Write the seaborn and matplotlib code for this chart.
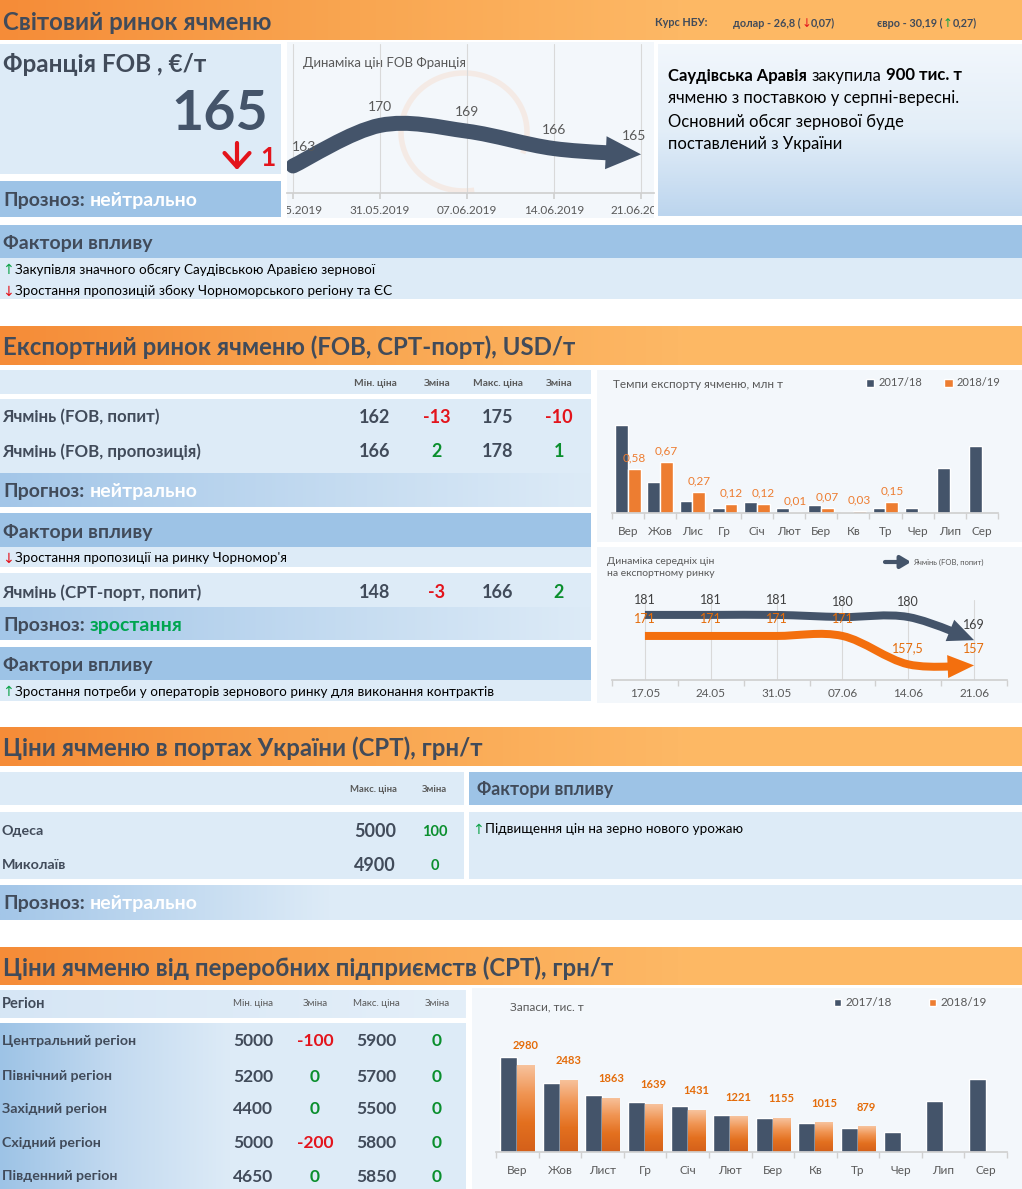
"""Market digest page for barley prices, drawn as one figure."""

import matplotlib
matplotlib.use("Agg")
import matplotlib.pyplot as plt
import numpy as np
import pandas as pd
import seaborn as sns
from matplotlib.colors import LinearSegmentedColormap
from matplotlib.patches import Arc, PathPatch, Polygon, Rectangle
from matplotlib.path import Path
from matplotlib.transforms import Bbox

# ---- data -----------------------------------------------------------------
nbu_usd, nbu_usd_change = "26,8", "0,07"
nbu_eur, nbu_eur_change = "30,19", "0,27"

fob_dates = ["24.05.2019", "31.05.2019", "07.06.2019", "14.06.2019", "21.06.2019"]
fob_prices = [163, 170, 169, 166, 165]
fob_last = 165
fob_change = 1

news_lines = [
    [("Саудівська Аравія", "bold"), (" закупила ", "normal"), ("900 тис. т", "bold")],
    [("ячменю з поставкою у серпні-вересні.", "normal")],
    [("Основний обсяг зернової буде", "normal")],
    [("поставлений з України", "normal")],
]
world_factors = [
    ("up", "Закупівля значного обсягу Саудівською Аравією зернової"),
    ("down", "Зростання пропозицій збоку Чорноморського регіону та ЄС"),
]

export_names = ["Ячмінь (FOB, попит)", "Ячмінь (FOB, пропозиція)"]
export_min = [162, 166]
export_min_change = [-13, 2]
export_max = [175, 178]
export_max_change = [-10, 1]
export_factors = [("down", "Зростання пропозиції на ринку Чорномор'я")]
cpt_name = "Ячмінь (CPT-порт, попит)"
cpt_min, cpt_min_change, cpt_max, cpt_max_change = 148, -3, 166, 2
cpt_factors = [("up", "Зростання потреби у операторів зернового ринку для виконання контрактів")]

export_months = ["Вер", "Жов", "Лис", "Гр", "Січ", "Лют", "Бер", "Кв", "Тр", "Чер", "Лип", "Сер"]
export_1718 = [1.16, 0.41, 0.16, 0.06, 0.14, 0.06, 0.10, 0.01, 0.07, 0.07, 0.59, 0.88]
export_1819 = [0.58, 0.67, 0.27, 0.12, 0.12, 0.01, 0.07, 0.03, 0.15, None, None, None]

avg_dates = ["17.05", "24.05", "31.05", "07.06", "14.06", "21.06"]
avg_fob_demand = [181, 181, 181, 180, 180, 169]
avg_cpt_demand = [171, 171, 171, 171, 157.5, 157]

ports = ["Одеса", "Миколаїв"]
port_max = [5000, 4900]
port_change = [100, 0]
port_factors = [("up", "Підвищення цін на зерно нового урожаю")]

regions = ["Центральний регіон", "Північний регіон", "Західний регіон",
           "Східний регіон", "Південний регіон"]
region_min = [5000, 5200, 4400, 5000, 4650]
region_min_change = [-100, 0, 0, -200, 0]
region_max = [5900, 5700, 5500, 5800, 5850]
region_max_change = [0, 0, 0, 0, 0]

stock_months = ["Вер", "Жов", "Лист", "Гр", "Січ", "Лют", "Бер", "Кв", "Тр", "Чер", "Лип", "Сер"]
stock_1718 = [3270, 2370, 1970, 1730, 1570, 1280, 1170, 1010, 840, 700, 1750, 2500]
stock_1819 = [2980, 2483, 1863, 1639, 1431, 1221, 1155, 1015, 879, None, None, None]

seasons = ["2017/18", "2018/19"]

# ---- style ----------------------------------------------------------------
DARK = "#44546A"
ORANGE = "#ED7D31"
TEXT = "#414B5A"
LIGHT = "#DDEBF7"
MID = "#9DC3E6"
PANEL = "#F3F7FB"
RED = "#E3141C"
GREEN = "#0B8F2E"
UP = "#0FA34A"
GRAY = "#595959"

sns.set_theme(style="white")
plt.rcParams["font.family"] = ["Lato", "DejaVu Sans"]

W, H = 1022, 1189
fig = plt.figure(figsize=(W / 100, H / 100), dpi=100)
bg = fig.add_axes([0, 0, 1, 1])
bg.set_autoscale_on(False)
bg.set_xlim(0, W)
bg.set_ylim(H, 0)
bg.axis("off")
renderer = fig.canvas.get_renderer()


def axes_px(x0, y0, x1, y1):
    ax = fig.add_axes([x0 / W, 1 - y1 / H, (x1 - x0) / W, (y1 - y0) / H])
    ax.set_facecolor("none")
    return ax


def box(x0, y0, x1, y1, color):
    bg.add_patch(Rectangle((x0, y0), x1 - x0, y1 - y0, color=color, lw=0, zorder=0))


def gradient(x0, y0, x1, y1, colors, horizontal=True):
    cmap = LinearSegmentedColormap.from_list("grad", colors)
    ramp = np.linspace(0, 1, 256)
    ramp = ramp.reshape(1, -1) if horizontal else ramp.reshape(-1, 1)
    bg.imshow(ramp, cmap=cmap, extent=(x0, x1, y1, y0), aspect="auto",
              interpolation="bilinear", zorder=0)


def write(x, y, parts, size, ha="left", va="center_baseline"):
    """Place runs of differently styled text one after another."""
    space = 0.27 * size * 100 / 72
    cur = x
    items = []
    for s, color, weight in parts:
        if s.startswith(" "):
            cur += space
        t = bg.text(cur, y, s.strip(), fontsize=size, color=color,
                    fontweight=weight, ha="left", va=va, zorder=5)
        cur += t.get_window_extent(renderer).width
        if s.endswith(" "):
            cur += space
        items.append(t)
    total = cur - x
    shift = {"left": 0, "center": total / 2, "right": total}[ha]
    for t in items:
        t.set_x(t.get_position()[0] - shift)
    return total


def glyph_arrow(x, y, direction, size):
    arrow, color = ("↑", UP) if direction == "up" else ("↓", RED)
    t = bg.text(x, y, arrow, fontsize=size, color=color, family="DejaVu Sans",
                va="center_baseline", zorder=5)
    return t.get_window_extent(renderer).width


def signed(v):
    return (RED if v < 0 else GREEN), f"{v}"


def header(y0, y1, title):
    gradient(0, y0, W, y1, ["#F58C38", "#F9A550", "#FDB865", "#FDB864"])
    write(3, (y0 + y1) / 2, [(title, TEXT, "bold")], 17.3)


def factor_lines(x, ys, factors, size=9.7):
    for y, (direction, text) in zip(ys, factors):
        glyph_arrow(x, y, direction, size + 0.5)
        write(x + 13, y, [(text, "black", "normal")], size)


def forecast(y0, y1, x1, word, color, label="Прозноз:", fade_to=None):
    gradient(0, y0, fade_to or x1, y1, ["#A3C6E8", LIGHT])
    if fade_to:
        box(fade_to, y0, x1, y1, LIGHT)
    write(3, (y0 + y1) / 2, [(label + " ", TEXT, "bold"), (word, color, "bold")], 14)


def smooth_arrow(ax, xs, ys, color, width_px, head_len, head_w, cap="butt"):
    """Thick smoothed line through the points with a filled arrow head."""
    pts = ax.transData.transform(np.column_stack([xs, ys]))
    ext = np.vstack([pts[0], pts, pts[-1]])
    segs = []
    for i in range(len(pts) - 1):
        p0, p1 = pts[i], pts[i + 1]
        c1 = p0 + (ext[i + 2] - ext[i]) / 6
        c2 = p1 - (ext[i + 3] - ext[i + 1]) / 6
        segs.append((p0, c1, c2, p1))
    p0, c1, c2, p1 = segs[-1]

    def bez(t):
        return ((1 - t) ** 3) * p0 + 3 * ((1 - t) ** 2) * t * c1 + 3 * (1 - t) * t * t * c2 + t ** 3 * p1

    t = 1.0
    while t > 0.05 and np.hypot(*(bez(t) - p1)) < head_len:
        t -= 0.01
    a = p0 + (c1 - p0) * t
    b = c1 + (c2 - c1) * t
    c = c2 + (p1 - c2) * t
    d = a + (b - a) * t
    e = b + (c - b) * t
    f = d + (e - d) * t
    segs[-1] = (p0, a, d, f)
    verts = [segs[0][0]]
    codes = [Path.MOVETO]
    for s in segs:
        verts += [s[1], s[2], s[3]]
        codes += [Path.CURVE4] * 3
    inv = ax.transData.inverted()
    ax.add_patch(PathPatch(Path(inv.transform(np.array(verts)), codes), fill=False,
                           edgecolor=color, lw=width_px * 0.72, capstyle=cap, zorder=3))
    direction = (p1 - f) / np.hypot(*(p1 - f))
    perp = np.array([-direction[1], direction[0]])
    base = f - direction * 2
    head = np.array([p1, base + perp * head_w / 2, base - perp * head_w / 2])
    ax.add_patch(Polygon(inv.transform(head), closed=True, color=color, lw=0, zorder=3))


def bar_chart(ax, months, first, second, ymax, label_fmt, tick_size):
    df = pd.DataFrame({
        "month": months * 2,
        "season": [seasons[0]] * len(months) + [seasons[1]] * len(months),
        "value": [np.nan if v is None else v for v in first + second],
    })
    sns.barplot(data=df, x="month", y="value", hue="season", order=months,
                hue_order=seasons, palette=[DARK, ORANGE], saturation=1,
                width=0.8, ax=ax)
    ax.set_xlabel("")
    ax.set_ylabel("")
    ax.set_yticks([])
    ax.set_ylim(0, ymax)
    ax.set_xlim(-0.5, len(months) - 0.5)
    sns.despine(ax=ax, left=True)
    ax.spines["bottom"].set_color("#D0D0D0")
    ax.set_xticks(np.arange(-0.5, len(months), 1), minor=True)
    ax.tick_params(axis="x", which="major", length=0, pad=9, labelsize=tick_size, labelcolor=GRAY)
    ax.tick_params(axis="x", which="minor", length=4, color="#D0D0D0", bottom=True)
    handles, labels = ax.get_legend_handles_labels()
    if ax.get_legend():
        ax.get_legend().remove()
    present = [label_fmt(v) for v in second if v is not None]
    return handles, labels, ax.containers[1], present


def price_row(y, cols, values, size):
    for cx, v, coloured in zip(cols, values, [False, True, False, True]):
        color, s = signed(v) if coloured else (TEXT, f"{v}")
        write(cx, y, [(s, color, "bold")], size, ha="center")


# ---- section 1: world market ----------------------------------------------
header(0, 40, "Світовий ринок ячменю")
write(655, 22, [("Курс НБУ:", TEXT, "bold")], 7.8)
for x0, label, value, direction, change in [
        (733, "долар", nbu_usd, "down", nbu_usd_change),
        (877, "євро", nbu_eur, "up", nbu_eur_change)]:
    w = write(x0, 22, [(f"{label} - {value} (", TEXT, "bold")], 7.8)
    aw = glyph_arrow(x0 + w + 0.5, 22, direction, 8.5)
    write(x0 + w + aw + 0.5, 22, [(change + ")", TEXT, "bold")], 7.8)

box(0, 44, 281, 174, LIGHT)
write(3, 63, [("Франція FOB , €/т", TEXT, "bold")], 17.5)
bg.text(268, 130, f"{fob_last}", fontsize=40, fontweight="bold", color=DARK,
        ha="right", va="baseline", zorder=5)
bg.annotate("", xy=(237, 170), xytext=(237, 143),
            arrowprops=dict(arrowstyle="->,head_length=0.5,head_width=0.45",
                            lw=3, color=RED, mutation_scale=20,
                            shrinkA=0, shrinkB=0), zorder=5)
bg.text(276, 166, f"{fob_change}", fontsize=19, color=RED, fontweight="bold",
        ha="right", va="baseline", zorder=5)
box(0, 181, 281, 217, MID)
write(3, 199, [("Прозноз: ", TEXT, "bold"), ("нейтрально", "white", "bold")], 14)

# FOB France price chart (faint logo ring behind it)
box(287, 42, 654, 218, PANEL)
bg.add_patch(Arc((464, 132), 126, 118, theta1=80, theta2=380, color="#F8CBAD",
                 lw=4, alpha=0.28, zorder=0.6))
write(303, 62, [("Динаміка цін FOB Франція", GRAY, "normal")], 9.5)

fob_ax = axes_px(287, 44, 654, 193)
fob_ax.set_xlim(-0.069, 4.149)
fob_ax.set_ylim(158.34, 184.03)
fob_ax.set_yticks([])
fob_ax.set_xticks(range(len(fob_dates)))
fob_ax.set_xticklabels(fob_dates)
fob_ax.grid(axis="x", color="#D9D9D9", lw=0.8)
fob_ax.tick_params(axis="x", length=4, color="#D0D0D0", labelsize=8.5,
                   labelcolor=GRAY, pad=5, bottom=True)
sns.despine(ax=fob_ax, left=True)
fob_ax.spines["bottom"].set_color("#D0D0D0")
clip = Bbox.from_extents(287, H - 218, 654, H - 44)
for lab in fob_ax.get_xticklabels():
    lab.set_clip_box(clip)
    lab.set_clip_on(True)
smooth_arrow(fob_ax, range(len(fob_prices)), fob_prices, DARK, 15, 33, 33, cap="round")
for i, v in enumerate(fob_prices):
    fob_ax.annotate(f"{v}", (i, v), xytext=(8 if i == 0 else (-5 if i == 4 else 0), 13.5),
                    textcoords="offset points", ha="center", va="center",
                    fontsize=10, color="#595959", zorder=4)

# news box
gradient(658, 44, W, 216, ["#F2F7FC", "#E3EEF8", "#BCD5EE"], horizontal=False)
for i, line in enumerate(news_lines):
    write(668, 74 + i * 23, [(s, "black", w) for s, w in line], 12)

# factors
box(0, 225, W, 258, MID)
write(3, 242, [("Фактори впливу", TEXT, "bold")], 14)
box(0, 258, W, 299, LIGHT)
factor_lines(2, [269, 290], world_factors)

# ---- section 2: export market -------------------------------------------------
header(326, 365, "Експортний ринок ячменю (FOB, CPT-порт), USD/т")
cols = [375, 437, 498, 559]
box(0, 370, 591, 394, LIGHT)
for cx, name in zip(cols, ["Мін. ціна", "Зміна", "Макс. ціна", "Зміна"]):
    write(cx, 382, [(name, GRAY, "bold")], 7.3, ha="center")
box(0, 399, 591, 473, LIGHT)
for y, name, a, b, c, d in zip([416, 450], export_names, export_min, export_min_change,
                                export_max, export_max_change):
    write(2, y, [(name, TEXT, "bold")], 12.2)
    price_row(y, cols, [a, b, c, d], 13)
forecast(473, 507, 591, "нейтрально", "white", label="Прогноз:")
box(0, 513, 591, 547, MID)
write(3, 531, [("Фактори впливу", TEXT, "bold")], 14)
box(0, 547, 591, 567, LIGHT)
factor_lines(2, [557], export_factors)
box(0, 573, 591, 607, LIGHT)
write(2, 591, [(cpt_name, TEXT, "bold")], 12.2)
price_row(591, cols, [cpt_min, cpt_min_change, cpt_max, cpt_max_change], 13)
forecast(607, 640, 591, "зростання", "#00A550")
box(0, 647, 591, 680, MID)
write(3, 664, [("Фактори впливу", TEXT, "bold")], 14)
box(0, 680, 591, 701, LIGHT)
factor_lines(2, [691], cpt_factors)

# export pace bar chart
box(597, 370, W, 542, PANEL)
write(613, 383, [("Темпи експорту ячменю, млн т", GRAY, "normal")], 8.5)
exp_ax = axes_px(612, 414, 998, 513)
h, l, cont, labels = bar_chart(exp_ax, export_months, export_1718, export_1819, 1.3,
                               lambda v: f"{v:.2f}".replace(".", ","), 8.5)
exp_ax.bar_label(cont, labels=labels, padding=4, color=ORANGE, fontsize=8.5)
exp_ax.legend(h, l, loc="center left", bbox_to_anchor=(866 / W, 1 - 383 / H),
              bbox_transform=fig.transFigure, ncol=2, frameon=False, fontsize=8,
              handlelength=0.75, handleheight=0.75, handletextpad=0.35,
              columnspacing=2.0, labelcolor=GRAY, borderaxespad=0, borderpad=0)

# average export prices chart
box(597, 547, W, 703, PANEL)
write(607, 560, [("Динаміка середніх цін", GRAY, "normal")], 7.5)
write(607, 573, [("на експортному ринку", GRAY, "normal")], 7.5)
bg.annotate("", xy=(911, 562), xytext=(885, 562),
            arrowprops=dict(arrowstyle="-|>,head_length=0.5,head_width=0.3",
                            color=DARK, lw=3, shrinkA=0, shrinkB=0), zorder=5)
write(913, 562, [("Ячмінь (FOB, попит)", GRAY, "normal")], 5.5)
avg_ax = axes_px(612, 600, 1007, 680)
avg_ax.set_xlim(-0.5, len(avg_dates) - 0.5)
avg_ax.set_ylim(150.05, 188.1)
avg_ax.set_yticks([])
avg_ax.set_xticks(range(len(avg_dates)))
avg_ax.set_xticklabels(avg_dates)
avg_ax.set_xticks(np.arange(-0.5, len(avg_dates), 1), minor=True)
avg_ax.grid(axis="x", which="major", color="#D9D9D9", lw=0.8)
avg_ax.tick_params(axis="x", which="major", length=0, labelsize=8.5, labelcolor=GRAY, pad=6)
avg_ax.tick_params(axis="x", which="minor", length=4, color="#D0D0D0", bottom=True)
sns.despine(ax=avg_ax, left=True)
avg_ax.spines["bottom"].set_color("#D0D0D0")
smooth_arrow(avg_ax, range(len(avg_dates)), avg_cpt_demand, "#F36F0E", 8, 24, 23)
smooth_arrow(avg_ax, range(len(avg_dates)), avg_fob_demand, DARK, 8, 24, 23)
for i, (a, b) in enumerate(zip(avg_fob_demand, avg_cpt_demand)):
    avg_ax.annotate(f"{a}", (i, a), xytext=(0, 11), textcoords="offset points",
                    ha="center", va="center", fontsize=9, color="#404040", zorder=4)
    avg_ax.annotate(f"{b}".replace(".", ","), (i, b), xytext=(0, 12),
                    textcoords="offset points", ha="center", va="center",
                    fontsize=9, color="#E46C0A", zorder=4)

# ---- section 3: Ukrainian ports -------------------------------------------------
header(727, 766, "Ціни ячменю в портах України (CPT), грн/т")
box(0, 772, 464, 805, LIGHT)
write(374, 788, [("Макс. ціна", GRAY, "bold")], 6.8, ha="center")
write(435, 788, [("Зміна", GRAY, "bold")], 6.8, ha="center")
box(0, 812, 464, 879, LIGHT)
for y, name, v, ch in zip([830, 864], ports, port_max, port_change):
    write(2, y, [(name, TEXT, "bold")], 10.3)
    write(375, y, [(f"{v}", TEXT, "bold")], 13, ha="center")
    col, s = signed(ch)
    write(435, y, [(s, col, "bold")], 10.5, ha="center")
box(469, 772, W, 805, MID)
write(477, 788, [("Фактори впливу", TEXT, "bold")], 12.8)
box(469, 812, W, 879, LIGHT)
factor_lines(472, [828], port_factors)
forecast(885, 920, W, "нейтрально", "white", fade_to=330)

# ---- section 4: processors -------------------------------------------------------
header(947, 985, "Ціни ячменю від переробних підприємств (CPT), грн/т")
gradient(0, 990, 466, 1018, ["#D6E6F5", "#E4EFF9"])
write(2, 1003, [("Регіон", TEXT, "bold")], 10.5)
cols4 = [253, 315, 376, 437]
for cx, name in zip(cols4, ["Мін. ціна", "Зміна", "Макс. ціна", "Зміна"]):
    write(cx, 1003, [(name, GRAY, "normal")], 7, ha="center")
gradient(0, 1023, 230, H, ["#9DC3E6", "#C3DAF0", LIGHT])
box(230, 1023, 466, H, LIGHT)
for y, name, a, b, c, d in zip([1040, 1075, 1108, 1142, 1175], regions, region_min,
                                region_min_change, region_max, region_max_change):
    write(2, y, [(name, TEXT, "bold")], 10.2)
    price_row(y, cols4, [a, b, c, d], 12.5)

# stocks bar chart
box(472, 988, W, H, PANEL)
write(510, 1006, [("Запаси, тис. т", GRAY, "normal")], 8.5)
stk_ax = axes_px(496, 1042, 1007, 1152)
h, l, cont, labels = bar_chart(stk_ax, stock_months, stock_1718, stock_1819, 3780,
                               lambda v: f"{v}", 8.5)
orange_ramp = LinearSegmentedColormap.from_list("bar", ["#F7C29C", "#F09452", "#E3701F", "#D4601A"])
for bar in cont:
    bx, by = bar.get_x(), bar.get_y()
    bw, bh = bar.get_width(), bar.get_height()
    im = stk_ax.imshow(np.linspace(0, 1, 64).reshape(-1, 1), cmap=orange_ramp,
                       extent=(bx, bx + bw, by, by + bh), aspect="auto",
                       origin="upper", zorder=bar.get_zorder() + 0.1)
    im.set_clip_path(bar)
stk_ax.set_xlim(-0.5, len(stock_months) - 0.5)
stk_ax.set_ylim(0, 3780)
stk_ax.bar_label(cont, labels=labels, padding=10, color="#E46C0A", fontsize=8,
                 fontweight="bold")
stk_ax.legend(h, l, loc="center left", bbox_to_anchor=(834 / W, 1 - 1003 / H),
              bbox_transform=fig.transFigure, ncol=2, frameon=False, fontsize=8.5,
              handlelength=0.6, handleheight=0.6, handletextpad=0.35,
              columnspacing=3.2, labelcolor=GRAY, borderaxespad=0, borderpad=0)

fig.savefig("out.png", dpi=100)
